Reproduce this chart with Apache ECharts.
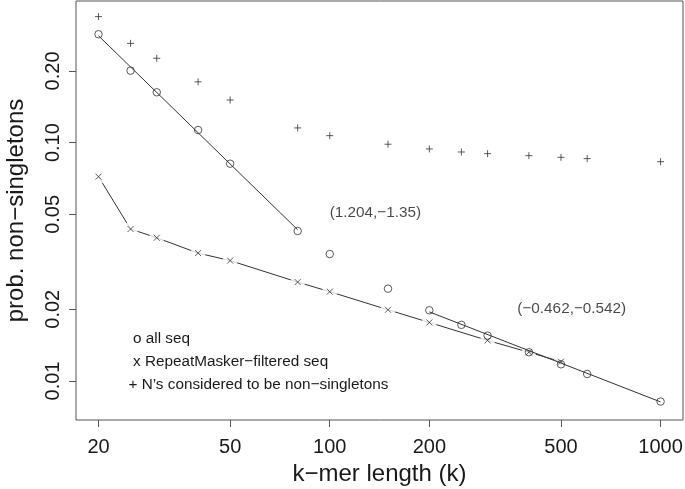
<!DOCTYPE html>
<html>
<head>
<meta charset="utf-8">
<script src="https://cdn.jsdelivr.net/npm/echarts@6/dist/echarts.min.js"></script>
<style>
html,body{margin:0;padding:0;background:#fff;}
#chart{width:685px;height:489px;}
</style>
</head>
<body>
<div id="chart"></div>
<script>
// ---- data ----
const kAll = [20, 25, 30, 40, 50, 80, 100, 150, 200, 250, 300, 400, 500, 600, 1000];
const probAll = [0.285, 0.2005, 0.1627, 0.113, 0.0816, 0.0426, 0.0341, 0.0244, 0.0198, 0.0172, 0.0155, 0.0132, 0.01175, 0.0107, 0.0082];

const kMasked = [20, 25, 30, 40, 50, 80, 100, 150, 200, 300, 400, 500];
const probMasked = [0.072, 0.0434, 0.0399, 0.0344, 0.032, 0.026, 0.0237, 0.0199, 0.0176, 0.0148, 0.0132, 0.01205];

const kN = [20, 25, 30, 40, 50, 80, 100, 150, 200, 250, 300, 400, 500, 600, 1000];
const probN = [0.338, 0.261, 0.226, 0.180, 0.151, 0.1153, 0.107, 0.0985, 0.0941, 0.0914, 0.0899, 0.0882, 0.0868, 0.0857, 0.0832];

const fitShortK = [20, 80];
const fitShortP = [0.281, 0.0431];
const fitLongK = [200, 1000];
const fitLongP = [0.0195, 0.00817];

const annotText = ['(1.204,\u22121.35)', '(\u22120.462,\u22120.542)'];
const annotK = [100, 369];
const annotP = [0.0507, 0.0200];

const xTicks = [20, 50, 100, 200, 500, 1000];
const xTickLabels = ['20', '50', '100', '200', '500', '1000'];
const yTicks = [0.01, 0.02, 0.05, 0.10, 0.20];
const yTickLabels = ['0.01', '0.02', '0.05', '0.10', '0.20'];

const legendTexts = ['o all seq', 'x RepeatMasker\u2212filtered seq', '+ N\u2019s considered to be non\u2212singletons'];

// ---- helpers ----
const zip = (a, b) => a.map((v, i) => [v, b[i]]);
const nearestLabel = (ticks, labels) => (v) => {
  let best = 0, bd = Infinity;
  ticks.forEach((t, i) => { const d = Math.abs(Math.log(v) - Math.log(t)); if (d < bd) { bd = d; best = i; } });
  return labels[best];
};

const FONT = "'Liberation Sans', Arial, Helvetica, sans-serif";
const INK = '#1a1a1a';
const LINE = '#333';

const plusPath = 'path://M5,0L5,10M0,5L10,5';
const crossPath = 'path://M0,0L10,10M10,0L0,10';

const chart = echarts.init(document.getElementById('chart'), null, {renderer: 'canvas'});
chart.setOption({
  animation: false,
  backgroundColor: '#fff',
  textStyle: {fontFamily: FONT},
  grid: {left: 76, right: 2, top: 1, bottom: 69, show: true, borderColor: '#555', borderWidth: 1,
    backgroundColor: 'transparent', containLabel: false, outerBoundsMode: 'none'},
  xAxis: {
    type: 'log', logBase: 10, min: 17.1, max: 1169,
    name: 'k\u2212mer length (k)', nameLocation: 'middle', nameGap: 41,
    nameTextStyle: {fontSize: 24, color: INK, fontFamily: FONT},
    axisLine: {show: false},
    splitLine: {show: false}, minorTick: {show: false},
    axisTick: {show: true, length: 7, lineStyle: {color: '#555'}, customValues: xTicks},
    axisLabel: {fontSize: 20, color: INK, fontFamily: FONT, margin: 17, customValues: xTicks,
      formatter: nearestLabel(xTicks, xTickLabels)}
  },
  yAxis: {
    type: 'log', logBase: 10, min: 0.00686, max: 0.393,
    name: 'prob. non\u2212singletons', nameLocation: 'middle', nameGap: 48,
    nameTextStyle: {fontSize: 24, color: INK, fontFamily: FONT},
    axisLine: {show: false},
    splitLine: {show: false}, minorTick: {show: false},
    axisTick: {show: true, length: 7, lineStyle: {color: '#555'}, customValues: yTicks},
    axisLabel: {fontSize: 20, color: INK, fontFamily: FONT, margin: 13, rotate: 90, customValues: yTicks,
      formatter: nearestLabel(yTicks, yTickLabels)}
  },
  series: [
    {
      name: 'masked line', type: 'line', data: zip(kMasked, probMasked), showSymbol: false, symbol: 'none',
      lineStyle: {color: LINE, width: 1}, z: 1, silent: true
    },
    {
      name: 'masked gaps', type: 'scatter', data: zip(kMasked, probMasked), symbol: 'circle', symbolSize: 15,
      itemStyle: {color: '#fff', borderWidth: 0}, z: 2, silent: true
    },
    {
      name: 'fit short', type: 'line', data: zip(fitShortK, fitShortP), showSymbol: false, symbol: 'none',
      lineStyle: {color: LINE, width: 1}, z: 3, silent: true
    },
    {
      name: 'fit long', type: 'line', data: zip(fitLongK, fitLongP), showSymbol: false, symbol: 'none',
      lineStyle: {color: LINE, width: 1}, z: 3, silent: true
    },
    {
      name: 'all seq', type: 'scatter', data: zip(kAll, probAll), symbol: 'circle', symbolSize: 7.5,
      itemStyle: {color: 'rgba(0,0,0,0)', borderColor: LINE, borderWidth: 1}, z: 4
    },
    {
      name: 'RepeatMasker-filtered seq', type: 'scatter', data: zip(kMasked, probMasked), symbol: crossPath, symbolSize: 6,
      itemStyle: {color: 'rgba(0,0,0,0)', borderColor: LINE, borderWidth: 1}, z: 4
    },
    {
      name: "N's considered to be non-singletons", type: 'scatter', data: zip(kN, probN), symbol: plusPath, symbolSize: 7,
      itemStyle: {color: 'rgba(0,0,0,0)', borderColor: LINE, borderWidth: 1}, z: 4
    },
    {
      name: 'annotations', type: 'scatter', symbolSize: 0, silent: true, z: 5,
      data: annotK.map((k, i) => ({value: [k, annotP[i]], label: {formatter: annotText[i]}})),
      label: {show: true, position: 'right', distance: 0, fontSize: 15.3, color: INK, fontFamily: FONT}
    }
  ],
  graphic: legendTexts.map((t, i) => ({
    type: 'text', x: i === 2 ? 128.5 : 133, y: [339, 361.5, 384.5][i],
    style: {text: t, fontSize: 15.3, fontFamily: FONT, fill: INK, verticalAlign: 'middle', align: 'left'}
  }))
});
</script>
</body>
</html>
